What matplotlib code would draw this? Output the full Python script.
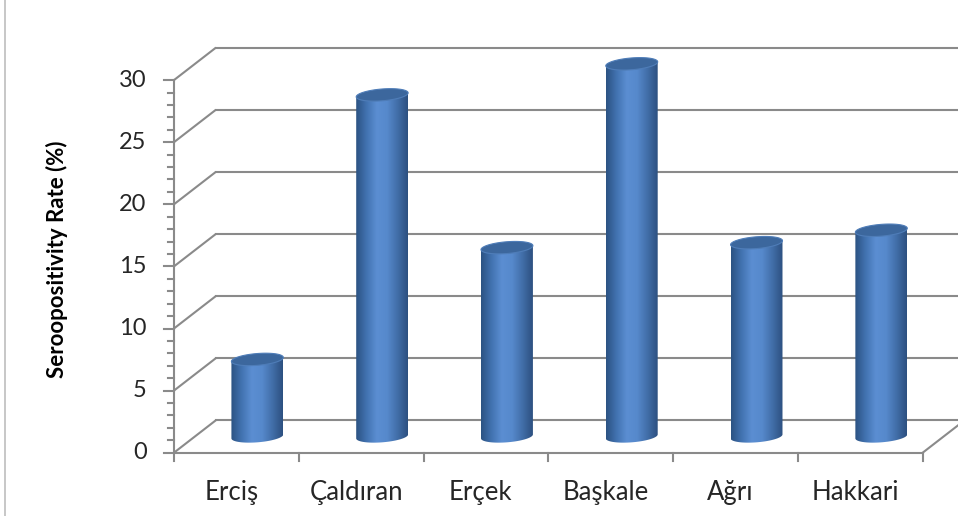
import matplotlib

matplotlib.use("Agg")
import matplotlib.pyplot as plt  # noqa: E402
import numpy as np  # noqa: E402
from matplotlib.colors import LinearSegmentedColormap  # noqa: E402
from matplotlib.patches import Polygon  # noqa: E402

regions = ["Erciş", "Çaldıran", "Erçek", "Başkale", "Ağrı", "Hakkari"]
rates = [6.2, 27.5, 15.2, 30.0, 15.6, 16.6]
y_ticks = [0, 5, 10, 15, 20, 25, 30]
y_label = "Seroopositivity Rate (%)"

plt.rcParams["font.family"] = ["Lato", "DejaVu Sans"]

# fake 3D: depth offset of the back wall, in data units
DX, DY = 0.337, 2.62
R = 0.208      # cylinder radius (category units)
EH = 0.95      # ellipse height (value units)
SHEAR = 0.16   # tilt of the ellipses
GRID = "#8a8a8a"

fig = plt.figure(figsize=(9.58, 5.16), dpi=100)
ax = fig.add_axes([0, 0, 1, 1])
ax.set_axis_off()

# walls: side gridlines + back gridlines
for v in y_ticks:
    ax.plot([-0.5, -0.5 + DX], [v, v + DY], color=GRID, lw=1.5, solid_capstyle="butt")
    ax.plot([-0.5 + DX, 5.5 + DX + 1], [v + DY, v + DY], color=GRID, lw=1.5)

# floor front edge and right edge
ax.plot([-0.5, 5.5], [0, 0], color=GRID, lw=1.5)
ax.plot([5.5, 5.5 + DX], [0, DY], color=GRID, lw=1.5)
for b in np.arange(0.5, 6.0, 1.0):
    ax.plot([b, b], [0, -0.7], color=GRID, lw=1.5)

# value axis with minor ticks
ax.plot([-0.5, -0.5], [-0.7, y_ticks[-1]], color=GRID, lw=1.5)
for m in range(0, y_ticks[-1] + 1):
    ln = 0.08 if m % 5 == 0 else 0.05
    ax.plot([-0.5 - ln, -0.5], [m, m], color=GRID, lw=1.5)
for v in y_ticks:
    ax.text(-0.72, v, str(v), ha="right", va="center", fontsize=17, color="#262626")

ax.text(-1.44, 15.6, y_label, rotation=90, ha="center", va="center",
        fontsize=16, fontweight="bold", color="black")

for i, name in enumerate(regions):
    ax.text(i - 0.04, -3.8, name, ha="center", va="baseline", fontsize=18.5, color="#262626")

body_cmap = LinearSegmentedColormap.from_list(
    "cyl", ["#2c5282", "#4172b0", "#5b8ed2", "#5689cc", "#416ea8", "#2d5080"])
t = np.linspace(0, 2 * np.pi, 120)

for i, v in enumerate(rates):
    xc = i + DX / 2
    yb = DY / 2
    yt = yb + v
    # body: rectangle closed by lower half of the base ellipse
    tb = np.linspace(np.pi, 2 * np.pi, 60)
    bx = xc + R * np.cos(tb)
    by = yb + EH / 2 * np.sin(tb) + SHEAR * np.cos(tb)
    verts = np.column_stack([
        np.concatenate([[xc - R], bx, [xc + R]]),
        np.concatenate([[yt - SHEAR], by, [yt + SHEAR]]),
    ])
    body = Polygon(verts, closed=True, facecolor="none", edgecolor="none")
    ax.add_patch(body)
    grad = np.linspace(0, 1, 256).reshape(1, -1)
    im = ax.imshow(grad, cmap=body_cmap, aspect="auto", interpolation="bilinear",
                   extent=[xc - R, xc + R, yb - EH, yt + 1], zorder=3)
    im.set_clip_path(body)
    # top face
    top = Polygon(np.column_stack([xc + R * np.cos(t),
                                   yt + EH / 2 * np.sin(t) + SHEAR * np.cos(t)]),
                  closed=True, facecolor="#3c679d", edgecolor="#4f7db8", lw=0.8, zorder=4)
    ax.add_patch(top)

# chart-area border on the left
ax.axvline(-1.85, color="#bdbdbd", lw=1.2)

ax.set_xlim(-1.894, 5.783)
ax.set_ylim(-5.097, 36.45)

fig.savefig("out.png", dpi=100)
